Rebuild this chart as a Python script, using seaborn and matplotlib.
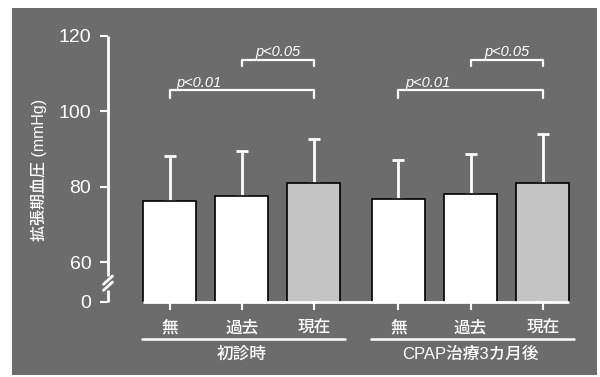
import matplotlib
matplotlib.use("Agg")
import matplotlib.pyplot as plt
import matplotlib.transforms as mtransforms
import seaborn as sns
import pandas as pd

# --- data -------------------------------------------------------------
groups = ["初診時", "CPAP治療3カ月後"]
categories = ["無", "過去", "現在"]
means = [76.3, 77.6, 80.9, 76.7, 78.0, 81.0]
sds = [11.9, 11.9, 11.8, 10.5, 10.6, 13.1]
y_ticks = [60, 80, 100, 120]
y_label = "拡張期血圧 (mmHg)"
# significance brackets: (first bar index, second bar index, label)
comparisons = [(0, 2, "p<0.01"), (1, 2, "p<0.05"),
               (3, 5, "p<0.01"), (4, 5, "p<0.05")]

# --- layout constants --------------------------------------------------
BG = "#6c6c6c"
LIGHT = "#c4c4c4"
GROUP_GAP = 1.17          # distance between last bar of a group and next group
BAR_W = 0.735
Y_FLOOR = 49.4            # where the broken axis places "0"

positions = []
for g in range(len(groups)):
    base = g * (len(categories) - 1 + GROUP_GAP)
    positions += [base + i for i in range(len(categories))]

df = pd.DataFrame({
    "pos": positions,
    "mean": means,
    "kind": categories * len(groups),
})

sns.set_style("white")
plt.rcParams["font.family"] = ["Liberation Sans", "Noto Sans CJK JP"]

W, H = 600, 377
fig = plt.figure(figsize=(W / 100, H / 100), dpi=100)
fig.patch.set_facecolor("white")
fig.patches.append(plt.Rectangle((12 / W, 2 / H), (597 - 12) / W, (H - 10) / H,
                                 transform=fig.transFigure, facecolor=BG,
                                 edgecolor="none", zorder=-10))

ax = fig.add_axes([108 / W, (H - 302) / H, 482 / W, 266 / H])
ax.set_facecolor("none")
ax.set_zorder(5)

palette = {"無": "white", "過去": "white", "現在": LIGHT}
sns.barplot(data=df, x="pos", y="mean", hue="kind", palette=palette,
            native_scale=True, width=BAR_W, errorbar=None, legend=False,
            edgecolor="black", linewidth=1.2, ax=ax, zorder=2)

# upper-only SD whiskers
ax.errorbar(positions, means, yerr=[[0] * len(sds), sds], fmt="none",
            ecolor="white", elinewidth=2, capsize=4, capthick=2, zorder=1)

x0 = (108 - 169.5) / 72.2
x1 = (590 - 169.5) / 72.2
ax.set_xlim(x0, x1)
ax.set_ylim(Y_FLOOR, 120)

# axes styling
for s in ["top", "right", "bottom", "left"]:
    ax.spines[s].set_visible(False)

ax.set_yticks([Y_FLOOR] + y_ticks)
ax.set_yticklabels(["0"] + [str(t) for t in y_ticks])
ax.set_xticks(positions)
ax.set_xticklabels(categories * len(groups))
ax.tick_params(axis="y", colors="white", length=6, width=1.5, pad=6,
               labelsize=14, left=True)
ax.tick_params(axis="x", colors="white", length=6, width=1.5, pad=7,
               labelsize=12, bottom=True)
for t in ax.get_xticklabels():
    t.set_fontweight("medium")
ax.set_xlabel("")
ax.set_ylabel("")

# baseline under the bars
half = BAR_W / 2
ax.hlines(Y_FLOOR, positions[0] - half, positions[-1] + half,
          color="white", lw=2, clip_on=False, zorder=3)

# broken left axis
yax = mtransforms.blended_transform_factory(ax.transAxes, ax.transData)
ax.plot([0, 0], [Y_FLOOR, 52.7], color="white", lw=2, transform=yax,
        clip_on=False, solid_capstyle="butt")
ax.plot([0, 0], [56.2, 120], color="white", lw=2, transform=yax,
        clip_on=False, solid_capstyle="butt")
dx = 4.5 / 482
for yc in (53.6, 55.2):
    ax.plot([-dx, dx], [yc - 1.1, yc + 1.1], color="white", lw=2,
            transform=yax, clip_on=False)

# significance brackets
levels = {"p<0.01": (105.7, 103.5, 106.5), "p<0.05": (113.6, 112.0, 114.7)}
for i, j, lab in comparisons:
    top, foot, ty = levels[lab]
    xa, xb = positions[i], positions[j]
    ax.plot([xa, xa, xb, xb], [foot, top, top, foot], color="white", lw=1.6,
            zorder=3)
    if lab == "p<0.01":
        ax.text(xa + 0.1, ty, lab, color="white", fontsize=10.5, style="italic",
                ha="left", va="baseline")
    else:
        ax.text((xa + xb) / 2, ty, lab, color="white", fontsize=10.5,
                style="italic", ha="center", va="baseline")

# group lines and labels below the category labels
gx = mtransforms.blended_transform_factory(ax.transData, ax.transAxes)
n = len(categories)
for g, name in enumerate(groups):
    ps = positions[g * n:(g + 1) * n]
    ax.plot([ps[0] - half - 0.01, ps[-1] + half + 0.06], [-0.139, -0.139],
            color="white", lw=1.8, transform=gx, clip_on=False)
    ax.text((ps[0] + ps[-1]) / 2, -0.195, name, color="white", fontsize=12,
            fontweight="medium", ha="center", va="center", transform=gx)

fig.text(39 / W, 1 - 170 / H, y_label, rotation=90, color="white",
         fontsize=11.5, fontweight="medium", ha="center", va="center")

fig.savefig("out.png", dpi=100, facecolor=fig.get_facecolor())
